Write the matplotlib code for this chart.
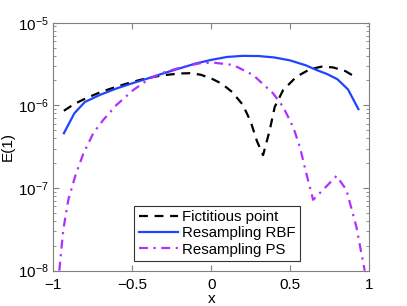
import numpy as np
import matplotlib
matplotlib.use("Agg")
import matplotlib.pyplot as plt
from matplotlib.ticker import LogLocator, NullFormatter

plt.rcParams['font.family'] = ['Liberation Sans', 'DejaVu Sans']
plt.rcParams['mathtext.fontset'] = 'custom'
plt.rcParams['mathtext.rm'] = 'Liberation Sans'

# Fictitious point (black dashed)
x_fict = [-0.933, -0.867, -0.8, -0.7, -0.6, -0.5, -0.4, -0.3, -0.2, -0.133, -0.067, 0.0,
          0.067, 0.133, 0.2, 0.25, 0.29, 0.329, 0.371, 0.403, 0.456, 0.54, 0.625,
          0.699, 0.772, 0.85, 0.916]
e_fict = [8.6e-7, 1.04e-6, 1.2e-6, 1.45e-6, 1.68e-6, 1.92e-6, 2.15e-6, 2.32e-6, 2.43e-6,
          2.45e-6, 2.35e-6, 2.12e-6, 1.83e-6, 1.45e-6, 1.02e-6, 6.4e-7, 3.7e-7, 2.5e-7,
          5.0e-7, 9.6e-7, 1.53e-6, 2.22e-6, 2.73e-6, 2.94e-6, 2.88e-6, 2.6e-6, 2.19e-6]

# Resampling RBF (blue solid)
x_rbf = [-0.933, -0.867, -0.8, -0.7, -0.6, -0.5, -0.4, -0.3, -0.2, -0.1, 0.0,
         0.1, 0.2, 0.3, 0.4, 0.5, 0.6, 0.667, 0.733, 0.8, 0.867, 0.933]
e_rbf = [4.6e-7, 8.0e-7, 1.1e-6, 1.35e-6, 1.6e-6, 1.85e-6, 2.12e-6, 2.45e-6, 2.8e-6,
         3.2e-6, 3.55e-6, 3.85e-6, 3.97e-6, 3.95e-6, 3.8e-6, 3.5e-6, 3.05e-6, 2.68e-6,
         2.4e-6, 2.07e-6, 1.56e-6, 9.0e-7]

# Resampling PS (magenta dash-dot)
x_ps = [-0.962, -0.937, -0.905, -0.859, -0.81, -0.747, -0.684, -0.6, -0.494, -0.388,
        -0.3, -0.2, -0.072, 0.013, 0.14, 0.266, 0.392, 0.456, 0.519, 0.561, 0.603,
        0.646, 0.72, 0.794, 0.857, 0.92, 0.973]
e_ps = [1.0e-8, 3.1e-8, 7.2e-8, 1.44e-7, 2.6e-7, 4.6e-7, 6.65e-7, 1.01e-6, 1.53e-6,
        2.12e-6, 2.5e-6, 2.85e-6, 3.23e-6, 3.29e-6, 3.08e-6, 2.33e-6, 1.4e-6, 9.6e-7,
        5.5e-7, 3.2e-7, 1.5e-7, 7.2e-8, 1.0e-7, 1.4e-7, 9.5e-8, 3.4e-8, 1.0e-8]

fig = plt.figure(figsize=(4.07, 3.06), dpi=100)
ax = fig.add_axes([0.131, 0.1154, 0.7756, 0.8104])

ax.semilogy(x_fict, e_fict, '--', color='black', lw=1.6, dashes=(4, 3),
            label='Fictitious point')
ax.semilogy(x_rbf, e_rbf, '-', color='#1f44ff', lw=1.6, label='Resampling RBF')
ax.semilogy(x_ps, e_ps, '-.', color='#b030ff', lw=1.6, dashes=(4, 2.5, 1, 2.5),
            label='Resampling PS')

ax.set_xlim(-1, 1)
ax.set_ylim(1e-8, 1e-5)
ax.set_xticks([-1, -0.5, 0, 0.5, 1])
ax.set_xticklabels(['\u22121', '\u22120.5', '0', '0.5', '1'])
ax.yaxis.set_major_locator(LogLocator(base=10, numticks=10))
ax.yaxis.set_minor_locator(LogLocator(base=10, subs=np.arange(2, 10), numticks=10))
ax.yaxis.set_minor_formatter(NullFormatter())

for s in ax.spines.values():
    s.set_color('#808080')
ax.tick_params(which='both', direction='in', top=True, right=True,
               color='#808080', labelsize=11, labelcolor='black')
ax.tick_params(which='major', length=4)
ax.tick_params(which='minor', length=2)
ax.tick_params(axis='x', pad=5)

ax.set_xlabel('x', fontsize=11, labelpad=0)
ax.set_ylabel('E(1)', fontsize=11, labelpad=2)

leg = ax.legend(loc='lower center', bbox_to_anchor=(0.52, 0.02), fontsize=10.8,
                frameon=True, fancybox=False, edgecolor='black',
                handlelength=2.6, borderpad=0.3, labelspacing=0.15,
                handletextpad=0.3, borderaxespad=0.3)
leg.get_frame().set_linewidth(0.8)

fig.savefig('out.png', dpi=100)
